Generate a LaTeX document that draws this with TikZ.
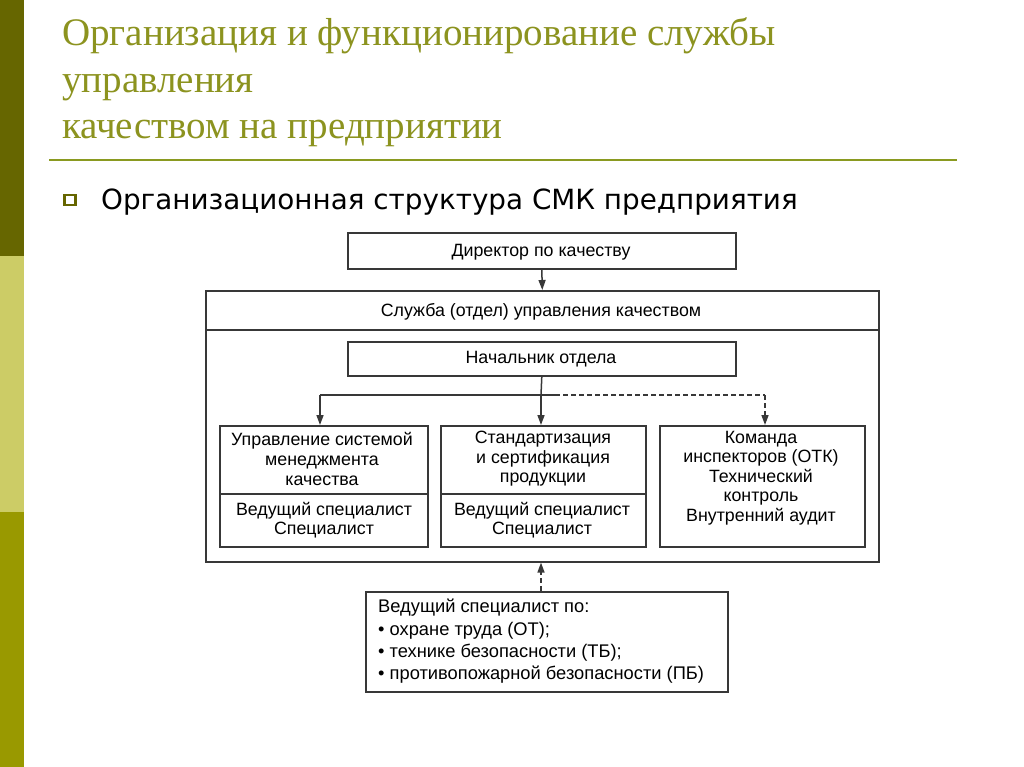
\documentclass[tikz,border=0pt]{standalone}
\usepackage{fontspec}
\setmainfont{Liberation Serif}
\newfontfamily\titlefont{Liberation Serif}
\newfontfamily\bulletfont{DejaVu Sans}
\newfontfamily\diafont{Liberation Sans}
\usetikzlibrary{arrows.meta}
\definecolor{bardark}{HTML}{666600}
\definecolor{barlight}{HTML}{CCCC66}
\definecolor{barolive}{HTML}{999900}
\definecolor{titlecol}{HTML}{8C931F}
\definecolor{rulecol}{HTML}{8A9A20}
\definecolor{linecol}{HTML}{383838}
\tikzset{
  boxnode/.style={draw=linecol, line width=1.6pt, inner sep=0pt, anchor=north west},
  txt/.style={font=\diafont\fontsize{17.8}{19.6}\selectfont, align=center, inner sep=0pt, text=black},
  conn/.style={draw=linecol, line width=1.5pt},
  arr/.style={conn, -{Triangle[length=10pt,width=7pt]}},
  titletxt/.style={font=\titlefont\fontsize{39}{39}\selectfont, text=titlecol, anchor=base west, inner sep=0pt},
}
\begin{document}
\begin{tikzpicture}[x=1pt,y=-1pt]
\useasboundingbox (0,0) rectangle (1024,767);
\fill[white] (0,0) rectangle (1024,767);
% side bar
\fill[bardark] (0,0) rectangle (24,256);
\fill[barlight] (0,256) rectangle (24,512);
\fill[barolive] (0,512) rectangle (24,767);
% title
\node[titletxt] (t1) at (62,46) {Организация и функционирование службы};
\node[titletxt] (t2) at (62,93) {управления};
\node[titletxt] (t3) at (62,139) {качеством на предприятии};
\draw[rulecol, line width=2pt] (49,160) -- (957,160);
% bullet
\draw[bardark, line width=2.2pt] (64.5,195) rectangle (75.5,205);
\node[anchor=base west, inner sep=0pt, font=\bulletfont\fontsize{27.8}{28}\selectfont] (sub) at (101,210) {Организационная структура СМК предприятия};
% diagram boxes
\node[boxnode, minimum width=388pt, minimum height=36pt] (dir) at (347,232) {};
\node[txt] (dirt) at (541,252) {Директор по качеству};
\node[boxnode, minimum width=673pt, minimum height=271pt] (svc) at (205,290) {};
\node[txt] (svct) at (541,312) {Служба (отдел) управления качеством};
\coordinate (hl) at (205,330);
\coordinate (hr) at (878,330);
\draw[conn] (hl) -- (hr);
\node[boxnode, minimum width=388pt, minimum height=34pt] (head) at (347,341) {};
\node[txt] (headt) at (541,359.5) {Начальник отдела};
% three boxes
\node[boxnode, minimum width=208pt, minimum height=121pt] (b1) at (219,425) {};
\node[boxnode, minimum width=205pt, minimum height=121pt] (b2) at (440,425) {};
\node[boxnode, minimum width=205pt, minimum height=121pt] (b3) at (659,425) {};
\draw[conn] (b1.west |- 0,494) -- (b1.east |- 0,494);
\draw[conn] (b2.west |- 0,494) -- (b2.east |- 0,494);
\node[txt] (b1a) at (322,459) {Управление системой\\менеджмента\\качества};
\node[txt] (b1b) at (324,520) {Ведущий специалист\\Специалист};
\node[txt] (b2a) at (543,459) {Стандартизация\\и сертификация\\продукции};
\node[txt] (b2b) at (542,520) {Ведущий специалист\\Специалист};
\node[txt] (b3a) at (761,478) {Команда\\инспекторов (ОТК)\\Технический\\контроль\\Внутренний аудит};
% connectors
\draw[arr] (dir.south) -- (svc.north);
\coordinate (jn) at (541,395);
\coordinate (jl) at (320,395);
\coordinate (jd) at (555,395);
\coordinate (jr) at (765,395);
\draw[conn] (head.south) -- (jn);
\draw[arr] (jn) -- (b2.north -| jn);
\draw[conn] (jd) -- (jl);
\draw[arr] (jl) -- (b1.north -| jl);
\draw[conn, dashed, dash pattern=on 5pt off 3pt] (jd) -- (jr);
\draw[arr, dashed, dash pattern=on 5pt off 3pt] (jr) -- (b3.north -| jr);
% bottom box
\node[boxnode, minimum width=362pt, minimum height=100pt] (bot) at (365,591) {};
\node[anchor=north west, inner sep=0pt, align=left, font=\diafont\fontsize{18.3}{22.3}\selectfont] (bott) at (378,599) {Ведущий специалист по:\\• охране труда (ОТ);\\• технике безопасности (ТБ);\\• противопожарной безопасности (ПБ)};
\draw[arr, dashed, dash pattern=on 5pt off 3pt] (bot.north -| jn) -- (svc.south -| jn);
\end{tikzpicture}
\end{document}
